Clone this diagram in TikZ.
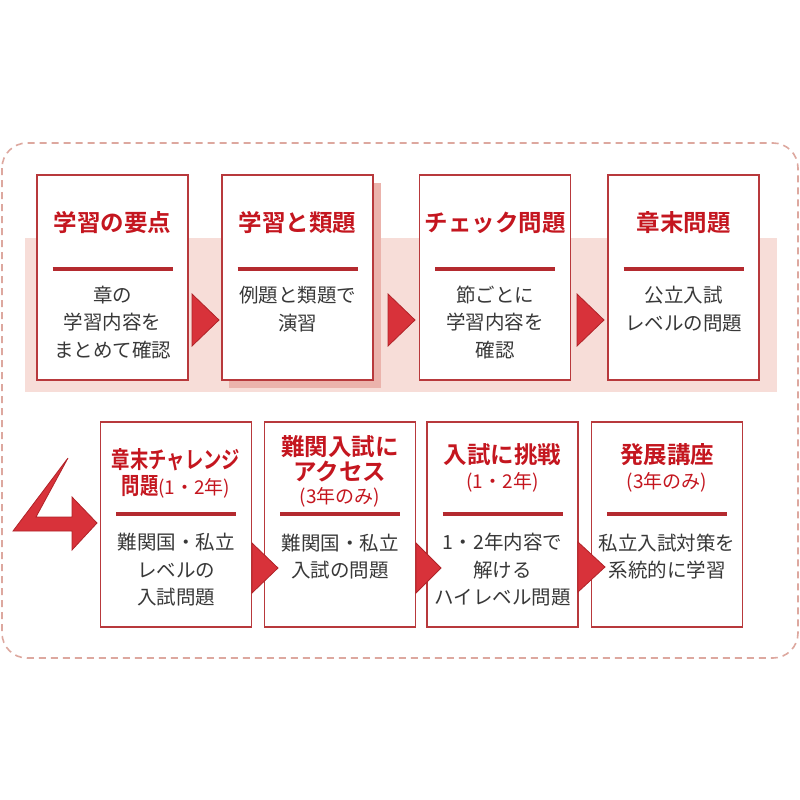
\documentclass[tikz,border=0pt]{standalone}
\usepackage{fontspec}
\usepackage{graphicx}
\newfontfamily\jp{Noto Sans CJK JP}
\newfontfamily\jpb{Noto Sans CJK JP Bold}
\usetikzlibrary{calc}
\definecolor{boxred}{HTML}{B8393C}
\definecolor{titlered}{HTML}{C4161F}
\definecolor{bodygray}{HTML}{383838}
\definecolor{sepred}{HTML}{B42A2F}
\definecolor{trired}{HTML}{D8323A}
\definecolor{tridark}{HTML}{B02328}
\definecolor{bandpink}{HTML}{F7DDD8}
\definecolor{shadowpink}{HTML}{EBB3AC}
\definecolor{dashpink}{HTML}{DDA89F}
\tikzset{
  box/.style={draw=boxred, line width=1.8pt, fill=white, minimum width=151pt, minimum height=205pt, inner sep=0pt},
  ttl/.style={text=titlered, font=\jpb\fontsize{23.5}{26}\selectfont, inner sep=0pt},
  subttl/.style={text=titlered, font=\jp\fontsize{19}{22}\selectfont, inner sep=0pt},
  bodytxt/.style={text=bodygray, font=\jp\fontsize{19.5}{27.5}\selectfont, align=center, inner sep=0pt},
  sepline/.style={draw=sepred, line width=4pt},
  tri/.style={fill=trired, draw=tridark, line width=0.8pt, line join=miter},
  outer/.style={draw=dashpink, line width=1.6pt, dash pattern=on 7pt off 5pt, rounded corners=25pt}
}
\begin{document}
\begin{tikzpicture}[x=1pt,y=-1pt]
\useasboundingbox (0,0) rectangle (800,800);
% outer dashed frame
\draw[outer] (2,143) rectangle (798,658);
% pink band
\fill[bandpink] (25,238) rectangle (777,392);
% shadow of box 2
\fill[shadowpink] (229,183) rectangle (381,388);
% top row boxes
\node[box] (b1) at (112.5,277.5) {};
\node[box] (b2) at (297.5,277.5) {};
\node[box] (b3) at (495,277.5) {};
\node[box] (b4) at (683.5,277.5) {};
% bottom row boxes
\node[box] (b5) at (176,524.5) {};
\node[box] (b6) at (340,524.5) {};
\node[box] (b7) at (502.5,524.5) {};
\node[box] (b8) at (667,524.5) {};
% top titles
\node[ttl] (t1) at (112.5,223) {学習の要点};
\node[ttl] (t2) at (297.5,223) {学習と類題};
\node[ttl] (t3) at (495,223) {チェック問題};
\node[ttl] (t4) at (683.5,223) {章末問題};
% separators
\foreach \b in {b1,b2,b3,b4} {
  \draw[sepline] ($(\b.north)+(-60,95)$) -- ($(\b.north)+(60,95)$);
}
\foreach \b in {b5,b6,b7,b8} {
  \draw[sepline] ($(\b.north)+(-60,93)$) -- ($(\b.north)+(60,93)$);
}
% top bodies
\node[bodytxt] (d1) at (112.5,322.5) {章の\\学習内容を\\まとめて確認};
\node[bodytxt] (d2) at (297.5,309) {例題と類題で\\演習};
\node[bodytxt] (d3) at (495,322.5) {節ごとに\\学習内容を\\確認};
\node[bodytxt] (d4) at (683.5,309) {公立入試\\レベルの問題};
% bottom titles
\node[ttl] (t5a) at (176,460) {\scalebox{0.78}[1]{章末チャレンジ}};
\node[ttl] (t5b) at (176,487) {\scalebox{0.78}[1]{問題}{\jp\fontsize{19}{22}\selectfont(1・2年)}};
\node[ttl] (t6a) at (340,447) {難関入試に};
\node[ttl] (t6b) at (340,472) {アクセス};
\node[subttl] (t6c) at (340,497) {(3年のみ)};
\node[ttl] (t7a) at (502.5,455) {入試に挑戦};
\node[subttl] (t7b) at (502.5,482) {(1・2年)};
\node[ttl] (t8a) at (667,455) {発展講座};
\node[subttl] (t8b) at (667,482) {(3年のみ)};
% bottom bodies
\node[bodytxt] (d5) at (176,570) {難関国・私立\\レベルの\\入試問題};
\node[bodytxt] (d6) at (340,556.5) {難関国・私立\\入試の問題};
\node[bodytxt] (d7) at (502.5,570) {1・2年内容で\\解ける\\ハイレベル問題};
\node[bodytxt] (d8) at (667,556.5) {私立入試対策を\\系統的に学習};
% triangles top
\draw[tri] (192,294) -- (219,320) -- (192,346) -- cycle;
\draw[tri] (388,294) -- (415,320) -- (388,346) -- cycle;
\draw[tri] (577,294) -- (604,320) -- (577,346) -- cycle;
% triangles bottom
\draw[tri] (252,543) -- (278,568) -- (252,593) -- cycle;
\draw[tri] (416,543) -- (441,568) -- (416,593) -- cycle;
\draw[tri] (578,542) -- (605,567) -- (578,592) -- cycle;
% big turn arrow
\draw[tri] (68,458) -- (13,531) -- (72,531) -- (72,550) -- (97,523) -- (72,497) -- (72,517) -- (36,517) -- cycle;
\end{tikzpicture}
\end{document}
